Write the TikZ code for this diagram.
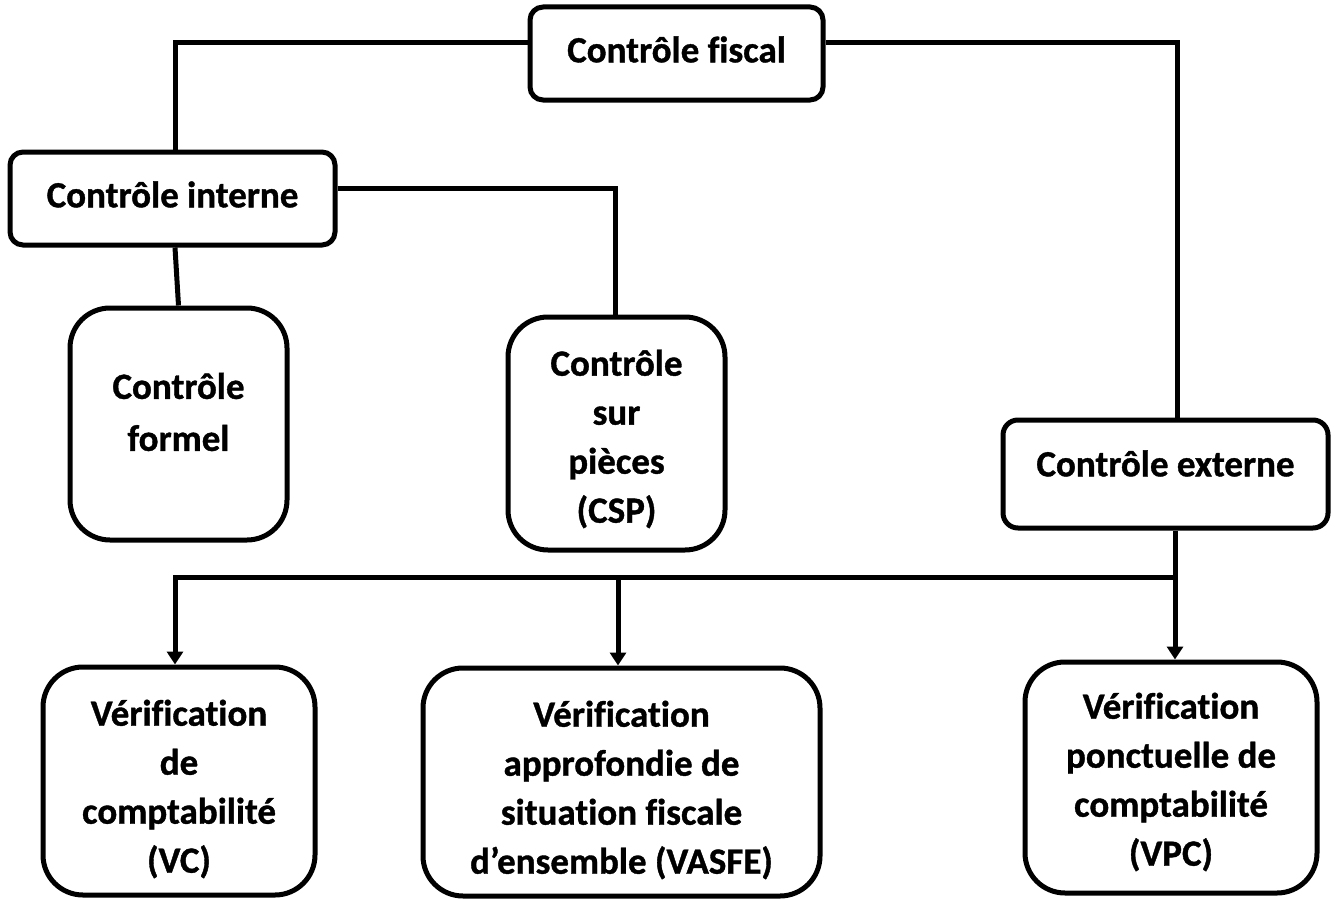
\documentclass[tikz,border=0pt]{standalone}
\usepackage{fontspec}
\setmainfont{Carlito}[Ligatures={NoCommon}, BoldFeatures={FakeBold=1}]
\usetikzlibrary{arrows.meta}
\begin{document}
\begin{tikzpicture}[x=1pt,y=-1pt,
  box/.style={draw, line width=5pt, rounded corners=#1, inner sep=0pt, fill=white},
  txt/.style={font=\bfseries\fontsize{37}{49}\selectfont, align=center, inner sep=0pt},
  conn/.style={line width=5pt},
  arr/.style={line width=5pt, -{Triangle[width=16pt,length=13pt]}}]
\useasboundingbox (0,0) rectangle (1336,899);

% boxes
\node[box=13pt, minimum width=293pt, minimum height=93pt] (fiscal) at (676.5,53.5) {};
\node[box=13pt, minimum width=325pt, minimum height=93pt] (interne) at (172.5,198.5) {};
\node[box=15pt, minimum width=325pt, minimum height=108pt] (externe) at (1165.5,474) {};
\node[box=40pt, minimum width=217pt, minimum height=232pt] (formel) at (178.5,424) {};
\node[box=40pt, minimum width=217pt, minimum height=233pt] (csp) at (616.5,433.5) {};
\node[box=40pt, minimum width=272pt, minimum height=228pt] (vc) at (179,781) {};
\node[box=40pt, minimum width=397pt, minimum height=228pt] (vasfe) at (621.5,782) {};
\node[box=40pt, minimum width=292pt, minimum height=231pt] (vpc) at (1171,777.5) {};

% texts
\node[txt] (fiscalT) at (676.5,49.5) {Contrôle fiscal};
\node[txt] (interneT) at (172.5,194.5) {Contrôle interne};
\node[txt] (externeT) at (1165.5,463.5) {Contrôle externe};
\node[txt, font=\bfseries\fontsize{37}{52}\selectfont] (formelT) at (178.5,412) {Contrôle\\formel};
\node[txt] (cspT) at (616.5,439) {Contrôle\\sur\\pièces\\(CSP)};
\node[txt] (vcT) at (179,789) {Vérification\\de\\comptabilité\\(VC)};
\node[txt] (vasfeT) at (621.5,790) {Vérification\\approfondie de\\situation fiscale\\d’ensemble (VASFE)};
\node[txt] (vpcT) at (1171,782) {Vérification\\ponctuelle de\\comptabilité\\(VPC)};

% junction points
\coordinate (tl) at (175,43);
\coordinate (tr) at (1177,43);
\coordinate (ir) at (615,188);
\coordinate (bus) at (1175,577);
\coordinate (bl) at (175,577);
\coordinate (bm) at (618,577);

% connectors
\draw[conn] (fiscal.west |- tl) -- (tl) -- (interne.north -| tl);
\draw[conn] (fiscal.east |- tr) -- (tr) -- (externe.north -| tr);
\draw[conn] (interne.east |- ir) -- (ir) -- (csp.north -| ir);
\draw[conn] (interne.south -| tl) -- (formel.north);
\draw[arr] (externe.south -| bus) -- (vpc.north -| bus);
\draw[arr] (bus) -- (bl) -- (vc.north -| bl);
\draw[arr] (bm) -- (vasfe.north -| bm);
\end{tikzpicture}
\end{document}
